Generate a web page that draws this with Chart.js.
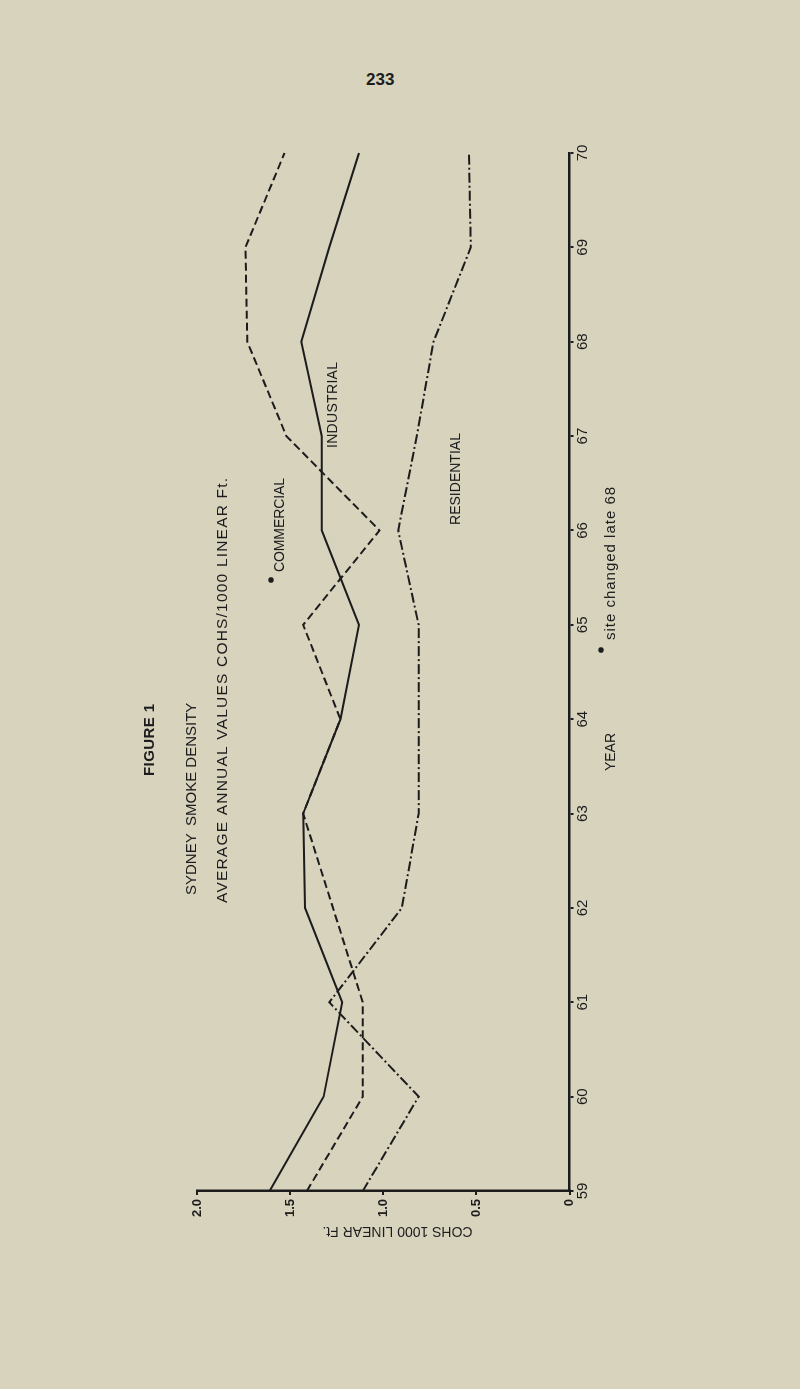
<!DOCTYPE html>
<html><head><meta charset="utf-8">
<script src="https://cdn.jsdelivr.net/npm/chart.js@4.4.1/dist/chart.umd.min.js"></script>
<style>
html,body{margin:0;padding:0;width:800px;height:1389px;overflow:hidden;background:#d7d3bd;}
#pg{position:absolute;left:366px;top:70px;line-height:17px;font:bold 17px "Liberation Sans",Arial,sans-serif;color:#1c1c1c;}
#rot{position:absolute;left:0;top:0;width:1389px;height:800px;transform-origin:0 0;transform:translateY(1389px) rotate(-90deg);}
</style></head><body>
<div id="pg">233</div>
<div id="rot"><canvas id="c" width="1389" height="800"></canvas></div>
<script>
// ---- data ----
const years = ['59','60','61','62','63','64','65','66','67','68','69','70'];
const industrial  = [1.61, 1.32, 1.22, 1.42, 1.43, 1.23, 1.13, 1.33, 1.33, 1.44, 1.29, 1.13];
const commercial  = [1.41, 1.11, 1.11, 1.27, 1.43, 1.23, 1.43, 1.02, 1.52, 1.73, 1.74, 1.53];
const residential = [1.11, 0.81, 1.29, 0.90, 0.81, 0.81, 0.81, 0.92, 0.82, 0.73, 0.53, 0.54];
const valueMin = 0, valueMax = 2.0, valueStep = 0.5;

const INK = '#1c1c1c';
const FONT = '"Liberation Sans", Arial, sans-serif';

function fitText(ctx, s, x, y, width, font) {
  ctx.font = font;
  ctx.letterSpacing = '0px';
  const w = ctx.measureText(s).width;
  if (width && s.length > 1) {
    ctx.letterSpacing = ((width - w) / (s.length - 1)).toFixed(2) + 'px';
  }
  ctx.fillText(s, x, y);
  ctx.letterSpacing = '0px';
}

const annotations = {
  id: 'annotations',
  afterDraw(chart) {
    const ctx = chart.ctx;
    ctx.save();
    ctx.fillStyle = INK;
    ctx.textBaseline = 'middle';
    ctx.textAlign = 'left';
    fitText(ctx, 'FIGURE 1', 613, 150, 72, 'bold 15px ' + FONT);
    fitText(ctx, 'SYDNEY', 494, 192, 0, '15px ' + FONT);
    fitText(ctx, 'SMOKE DENSITY', 563, 192, 0, '15px ' + FONT);
    fitText(ctx, 'AVERAGE ANNUAL VALUES COHS/1000 LINEAR Ft.', 486, 223, 425, '15.5px ' + FONT);
    fitText(ctx, 'COMMERCIAL', 817, 280, 94, '14px ' + FONT);
    fitText(ctx, 'INDUSTRIAL', 941, 333, 86, '14px ' + FONT);
    fitText(ctx, 'RESIDENTIAL', 864, 456, 92, '14px ' + FONT);
    fitText(ctx, 'site changed late 68', 749, 611, 153, '15px ' + FONT);
    ctx.beginPath(); ctx.arc(809, 271, 2.8, 0, Math.PI * 2); ctx.fill();
    ctx.beginPath(); ctx.arc(739, 601, 2.8, 0, Math.PI * 2); ctx.fill();
    ctx.textAlign = 'center';
    fitText(ctx, 'YEAR', 637, 611, 0, '14px ' + FONT);
    ctx.translate(158, 397.5);
    ctx.rotate(-Math.PI / 2);
    fitText(ctx, 'COHS 1000 LINEAR Ft.', 0, 0, 0, '14px ' + FONT);
    ctx.restore();
  }
};

const base = { borderColor: INK, borderWidth: 2, pointRadius: 0, tension: 0, fill: false };

new Chart(document.getElementById('c'), {
  type: 'line',
  data: {
    labels: years,
    datasets: [
      Object.assign({ label: 'INDUSTRIAL', data: industrial }, base),
      Object.assign({ label: 'COMMERCIAL', data: commercial, borderDash: [8, 4] }, base),
      Object.assign({ label: 'RESIDENTIAL', data: residential, borderDash: [10, 3, 2, 3] }, base)
    ]
  },
  options: {
    responsive: false,
    animation: false,
    devicePixelRatio: 1,
    layout: { padding: { left: 0, right: 153, top: 197, bottom: 0 } },
    plugins: { legend: { display: false }, tooltip: { enabled: false }, title: { display: false } },
    scales: {
      x: {
        type: 'category',
        offset: false,
        afterFit(s) { s.height = 230.5; },
        grid: { display: true, drawOnChartArea: false, drawTicks: true, tickLength: 4, color: INK, lineWidth: 2 },
        border: { display: true, color: INK, width: 2.5 },
        ticks: { color: INK, font: { family: '"Liberation Sans Narrow", "Liberation Sans", Arial', size: 15 }, maxRotation: 0, minRotation: 0, padding: 0, autoSkip: false }
      },
      y: {
        min: valueMin, max: valueMax,
        afterFit(s) { s.width = 198; },
        grid: { display: true, drawOnChartArea: false, drawTicks: true, tickLength: 4, color: INK, lineWidth: 2 },
        border: { display: true, color: INK, width: 2.5 },
        ticks: { stepSize: valueStep, color: INK, padding: 4,
          font: { family: '"Liberation Sans", Arial', size: 13, weight: 'bold' },
          callback: v => v === 0 ? '0' : v.toFixed(1) }
      }
    }
  },
  plugins: [annotations]
});
</script>
</body></html>
